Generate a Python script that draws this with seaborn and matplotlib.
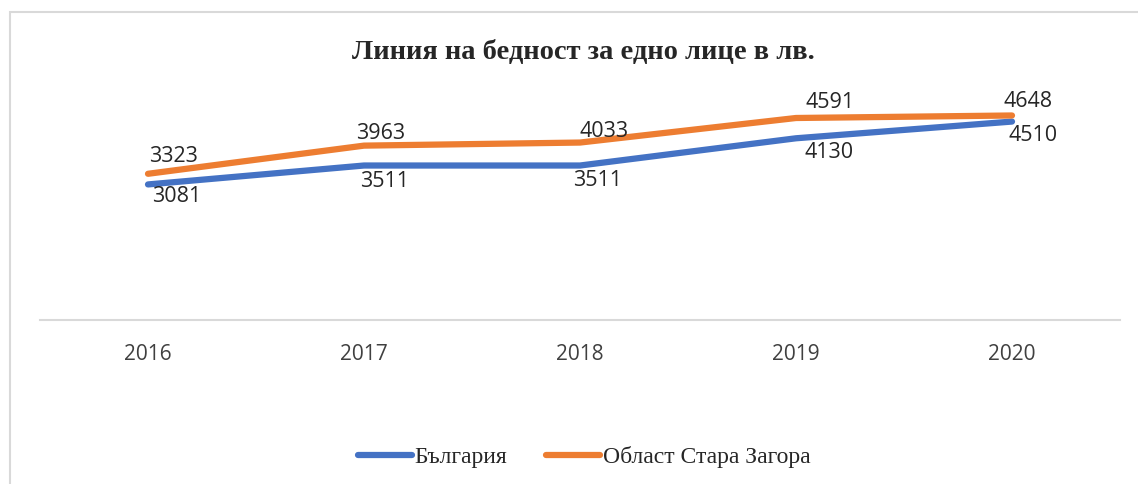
import pandas as pd
import matplotlib
matplotlib.use("Agg")
import matplotlib.pyplot as plt
import seaborn as sns
from matplotlib.patches import Rectangle

sns.set_style("white")

years = ["2016", "2017", "2018", "2019", "2020"]
bulgaria = [3081, 3511, 3511, 4130, 4510]
stara_zagora = [3323, 3963, 4033, 4591, 4648]
series_names = ["България", "Област Стара Загора"]
colors = ["#4472C4", "#ED7D31"]
title = "Линия на бедност за едно лице в лв."

# label offsets in pixels (labels were hand-placed in the original)
sz_dx, sz_dy = [26, 17, 24, 34, 16], [17, 12, 11, 15, 14]
bg_dx, bg_dy = [29, 21, 18, 33, 21], [-12, -16, -15, -14, -14]

df = pd.DataFrame({
    "year": years * 2,
    "value": bulgaria + stara_zagora,
    "series": [series_names[0]] * len(years) + [series_names[1]] * len(years),
})

fig = plt.figure(figsize=(11.38, 4.84), dpi=100)
ax = fig.add_axes([40 / 1138, 1 - 320 / 484, 1080 / 1138, 220 / 484])

sns.lineplot(data=df, x="year", y="value", hue="series", palette=colors,
             linewidth=4.5, ax=ax, sort=False, legend=True)
for ln in ax.lines:
    ln.set_solid_capstyle("round")
    ln.set_solid_joinstyle("round")

ax.set_xlim(-0.5, len(years) - 0.5)
ax.set_ylim(0, 5000)
ax.set_xlabel("")
ax.set_ylabel("")
ax.set_yticks([])
for s in ["top", "right", "left"]:
    ax.spines[s].set_visible(False)
ax.spines["bottom"].set_color("#D9D9D9")
ax.spines["bottom"].set_linewidth(1.5)
ax.tick_params(axis="x", length=0, pad=17, labelsize=15, labelcolor="#404040")
for t in ax.get_xticklabels():
    t.set_fontfamily("Open Sans")

# data labels: orange above, blue below
for i, v in enumerate(stara_zagora):
    ax.annotate(str(v), (i, v), xytext=(sz_dx[i], sz_dy[i]), textcoords="offset pixels",
                ha="center", va="center", fontsize=15.5, family="Open Sans", color="#262626")
for i, v in enumerate(bulgaria):
    ax.annotate(str(v), (i, v), xytext=(bg_dx[i], bg_dy[i]), textcoords="offset pixels",
                ha="center", va="center", fontsize=15.5, family="Open Sans", color="#262626")

fig.text(583 / 1138, 1 - 53 / 484, title, ha="center", va="center",
         fontsize=20.5, fontweight="bold", family="Liberation Serif")

handles, labels = ax.get_legend_handles_labels()
ax.get_legend().remove()
leg = fig.legend(handles, labels, loc="center", bbox_to_anchor=(584 / 1138, 1 - 457 / 484),
                 ncol=2, frameon=False, handlelength=2.3, handletextpad=0.1,
                 columnspacing=1.65, prop={"family": "Liberation Serif", "size": 17})
for h in leg.get_lines():
    h.set_linewidth(4.5)
    h.set_solid_capstyle("round")

# outer chart border
fig.patches.append(Rectangle((10 / 1138, -0.1), 1.2, 1 - 12 / 484 + 0.1,
                             transform=fig.transFigure, fill=False,
                             edgecolor="#D9D9D9", linewidth=1.5))

plt.savefig("out.png", dpi=100)
plt.close()
